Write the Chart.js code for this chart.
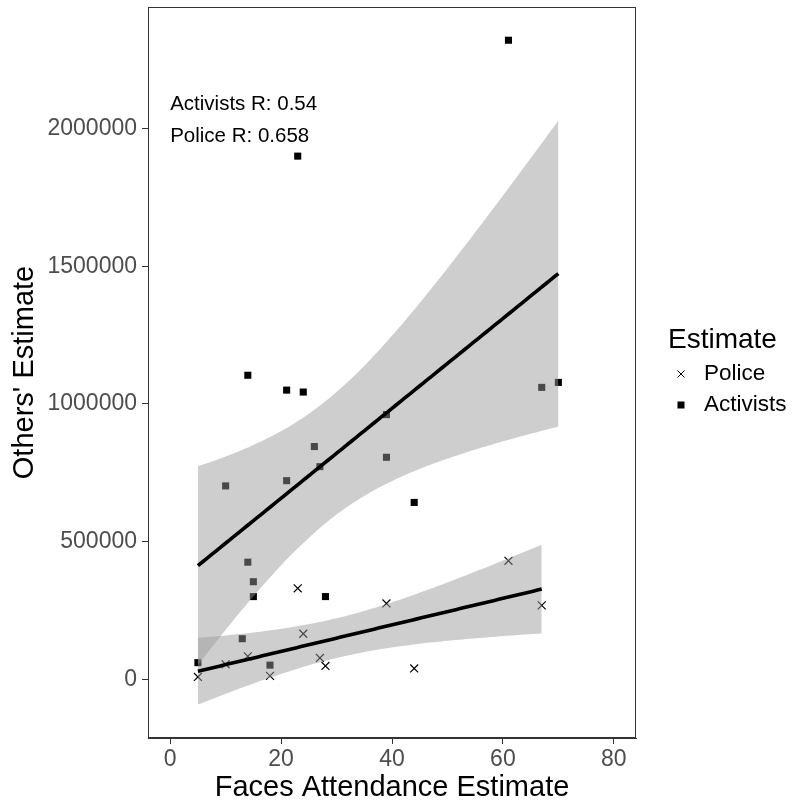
<!DOCTYPE html>
<html>
<head>
<meta charset="utf-8">
<script src="https://cdn.jsdelivr.net/npm/chart.js@4.4.1/dist/chart.umd.min.js"></script>
<style>
  html, body { margin: 0; padding: 0; background: #fff; }
  #wrap { width: 796px; height: 803px; }
</style>
</head>
<body>
<div id="wrap"><canvas id="chart" width="796" height="803"></canvas></div>
<script>
// Faces count vs. police / activist estimates
const policeX = [5, 10, 14, 18, 23, 24, 27, 28, 39, 44, 61, 67];
const policeY = [8000, 54000, 83000, 12000, 330000, 165000, 77000, 48000, 275000, 39000, 430000, 268000];

const activistsX = [61, 23, 14, 21, 24, 39, 67, 70, 26, 27, 39, 10, 21, 44, 14, 15, 15, 28, 13, 5, 18];
const activistsY = [2321000, 1900000, 1104000, 1050000, 1043000, 961000, 1060000, 1078000, 845000, 772000,
                    806000, 702000, 721000, 642000, 425000, 354000, 300000, 300000, 147000, 60000, 51000];

const xTicks = [0, 20, 40, 60, 80];
const yTicks = [0, 500000, 1000000, 1500000, 2000000];

const rLabels = ['Activists R: 0.54', 'Police R: 0.658'];
const legendTitle = 'Estimate';
const legendItems = ['Police', 'Activists'];

const FONT = "'Liberation Sans', Arial, sans-serif";

// --- linear model + 95% confidence band (like geom_smooth(method = "lm")) ---
function tQuant975(df) {
    // Cornish-Fisher expansion around the normal quantile
    const z = 1.959964;
    const z3 = z ** 3, z5 = z ** 5, z7 = z ** 7;
    return z + (z3 + z) / (4 * df)
             + (5 * z5 + 16 * z3 + 3 * z) / (96 * df * df)
             + (3 * z7 + 19 * z5 + 17 * z3 - 15 * z) / (384 * df ** 3);
}

function fitLm(xs, ys) {
    const n = xs.length;
    const mx = xs.reduce((a, b) => a + b, 0) / n;
    const my = ys.reduce((a, b) => a + b, 0) / n;
    let sxx = 0, sxy = 0;
    for (let i = 0; i < n; i++) {
        sxx += (xs[i] - mx) ** 2;
        sxy += (xs[i] - mx) * (ys[i] - my);
    }
    const slope = sxy / sxx;
    const icpt = my - slope * mx;
    let sse = 0;
    for (let i = 0; i < n; i++) sse += (ys[i] - (icpt + slope * xs[i])) ** 2;
    const s = Math.sqrt(sse / (n - 2));
    return { n, mx, sxx, slope, icpt, s, t: tQuant975(n - 2), xmin: Math.min(...xs), xmax: Math.max(...xs) };
}

function smoothSeries(xs, ys, steps) {
    const m = fitLm(xs, ys);
    const line = [], upper = [], lower = [];
    for (let i = 0; i <= steps; i++) {
        const x = m.xmin + (m.xmax - m.xmin) * i / steps;
        const yhat = m.icpt + m.slope * x;
        const se = m.s * Math.sqrt(1 / m.n + (x - m.mx) ** 2 / m.sxx);
        line.push({ x, y: yhat });
        upper.push({ x, y: yhat + m.t * se });
        lower.push({ x, y: yhat - m.t * se });
    }
    return { line, upper, lower };
}

const toPts = (xs, ys) => xs.map((x, i) => ({ x, y: ys[i] }));

const polSmooth = smoothSeries(policeX, policeY, 80);
const actSmooth = smoothSeries(activistsX, activistsY, 80);

const bandFill = 'rgba(153,153,153,0.48)';

function bandPair(sm) {
    return [
        { type: 'line', data: sm.upper, borderWidth: 0, pointRadius: 0, fill: '+1', backgroundColor: bandFill, order: 2 },
        { type: 'line', data: sm.lower, borderWidth: 0, pointRadius: 0, fill: false, order: 2 }
    ];
}

function fitLine(sm) {
    return { type: 'line', data: sm.line, borderColor: '#000', borderWidth: 3.6, pointRadius: 0, fill: false, order: 1 };
}

// frame, axis titles, R annotations and the legend
const decorations = {
    id: 'decorations',
    afterDatasetsDraw(chart) {
        const { ctx, scales } = chart;
        ctx.save();
        ctx.fillStyle = '#000';
        ctx.font = `20.5px ${FONT}`;
        ctx.textAlign = 'left';
        ctx.textBaseline = 'middle';
        ctx.fillText(rLabels[0], scales.x.getPixelForValue(0), scales.y.getPixelForValue(2088000));
        ctx.fillText(rLabels[1], scales.x.getPixelForValue(0), scales.y.getPixelForValue(1972000));
        ctx.restore();
    },
    afterDraw(chart) {
        const { ctx, chartArea: a } = chart;
        ctx.save();
        ctx.strokeStyle = '#333';
        ctx.lineWidth = 1;
        ctx.strokeRect(a.left + 0.5, a.top + 0.5, a.right - a.left - 1, a.bottom - a.top - 1);

        // axis titles
        ctx.fillStyle = '#000';
        ctx.font = `29px ${FONT}`;
        ctx.textAlign = 'center';
        ctx.textBaseline = 'alphabetic';
        ctx.fillText('Faces Attendance Estimate', (a.left + a.right) / 2, 796);
        ctx.save();
        ctx.translate(33, (a.top + a.bottom) / 2);
        ctx.rotate(-Math.PI / 2);
        ctx.fillText("Others' Estimate", 0, 0);
        ctx.restore();

        // legend
        ctx.textAlign = 'left';
        ctx.font = `28px ${FONT}`;
        ctx.fillText(legendTitle, 668, 348);
        ctx.font = `22.5px ${FONT}`;
        ctx.textBaseline = 'middle';
        const rows = [374, 405];
        ctx.fillText(legendItems[0], 704, rows[0]);
        ctx.fillText(legendItems[1], 704, rows[1]);
        const sx = 681;
        ctx.strokeStyle = '#000';
        ctx.lineWidth = 1;
        ctx.beginPath();
        ctx.moveTo(sx - 3.5, rows[0] - 3.5); ctx.lineTo(sx + 3.5, rows[0] + 3.5);
        ctx.moveTo(sx + 3.5, rows[0] - 3.5); ctx.lineTo(sx - 3.5, rows[0] + 3.5);
        ctx.stroke();
        ctx.fillRect(sx - 3.5, rows[1] - 3.5, 7, 7);
        ctx.restore();
    }
};

const tickFont = { family: FONT, size: 23 };

new Chart(document.getElementById('chart'), {
    type: 'scatter',
    data: {
        datasets: [
            {
                label: 'Police', data: toPts(policeX, policeY), pointStyle: 'crossRot',
                pointRadius: 5.6, borderColor: '#000', borderWidth: 1.2, backgroundColor: '#000', order: 3
            },
            {
                label: 'Activists', data: toPts(activistsX, activistsY), pointStyle: 'rect',
                pointRadius: 5, borderWidth: 0, backgroundColor: '#000', order: 3
            },
            ...bandPair(actSmooth),
            ...bandPair(polSmooth),
            fitLine(actSmooth),
            fitLine(polSmooth)
        ]
    },
    options: {
        responsive: false,
        animation: false,
        events: [],
        layout: { padding: { top: 7, right: 160, left: 0, bottom: 0 } },
        plugins: { legend: { display: false }, tooltip: { enabled: false } },
        scales: {
            x: {
                type: 'linear', min: -4, max: 84,
                afterBuildTicks: s => { s.ticks = xTicks.map(v => ({ value: v })); },
                afterFit: s => { s.height = 65; s.paddingLeft = 0; s.paddingRight = 0; },
                grid: { drawOnChartArea: false, drawTicks: true, tickLength: 6, color: '#333' },
                border: { display: true, color: '#333' },
                ticks: { font: tickFont, color: '#4d4d4d', padding: 2, maxRotation: 0, autoSkip: false, callback: v => String(v) }
            },
            y: {
                type: 'linear', min: -213700, max: 2441700,
                afterBuildTicks: s => { s.ticks = yTicks.map(v => ({ value: v })); },
                afterFit: s => { s.width = 148; s.paddingTop = 0; s.paddingBottom = 0; },
                grid: { drawOnChartArea: false, drawTicks: true, tickLength: 6, color: '#333' },
                border: { display: true, color: '#333' },
                ticks: { font: tickFont, color: '#4d4d4d', padding: 5, autoSkip: false, callback: v => String(v) }
            }
        }
    },
    plugins: [decorations]
});
</script>
</body>
</html>
